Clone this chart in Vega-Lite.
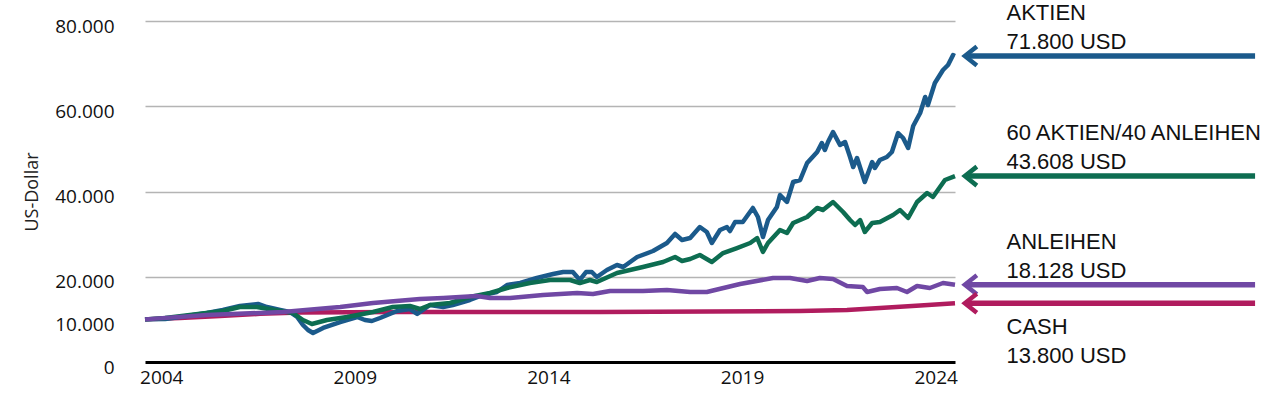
{
  "$schema": "https://vega.github.io/schema/vega-lite/v6.json",
  "width": 810,
  "height": 341,
  "autosize": {"type": "none"},
  "padding": {"left": 145, "top": 21, "right": 325, "bottom": 46},
  "background": "white",
  "config": {"view": {"stroke": null}},
  "datasets": {
    "series": [
      {"series": "Cash", "year": 2003.58, "value": 10000},
      {"series": "Cash", "year": 2004.48, "value": 10320},
      {"series": "Cash", "year": 2005.52, "value": 10790},
      {"series": "Cash", "year": 2006.55, "value": 11300},
      {"series": "Cash", "year": 2007.58, "value": 11610},
      {"series": "Cash", "year": 2010.17, "value": 11730},
      {"series": "Cash", "year": 2015.33, "value": 11730},
      {"series": "Cash", "year": 2020.49, "value": 11960},
      {"series": "Cash", "year": 2021.71, "value": 12200},
      {"series": "Cash", "year": 2022.56, "value": 12670},
      {"series": "Cash", "year": 2023.60, "value": 13250},
      {"series": "Cash", "year": 2024.50, "value": 13800},

      {"series": "Aktien", "year": 2003.58, "value": 10000},
      {"series": "Aktien", "year": 2004.10, "value": 10090},
      {"series": "Aktien", "year": 2004.48, "value": 10560},
      {"series": "Aktien", "year": 2005.18, "value": 11500},
      {"series": "Aktien", "year": 2005.59, "value": 12200},
      {"series": "Aktien", "year": 2006.03, "value": 13140},
      {"series": "Aktien", "year": 2006.50, "value": 13610},
      {"series": "Aktien", "year": 2006.73, "value": 12900},
      {"series": "Aktien", "year": 2007.07, "value": 12200},
      {"series": "Aktien", "year": 2007.32, "value": 11730},
      {"series": "Aktien", "year": 2007.51, "value": 10560},
      {"series": "Aktien", "year": 2007.66, "value": 8680},
      {"series": "Aktien", "year": 2007.79, "value": 7510},
      {"series": "Aktien", "year": 2007.92, "value": 6800},
      {"series": "Aktien", "year": 2008.18, "value": 7980},
      {"series": "Aktien", "year": 2008.62, "value": 9380},
      {"series": "Aktien", "year": 2009.06, "value": 10560},
      {"series": "Aktien", "year": 2009.26, "value": 9850},
      {"series": "Aktien", "year": 2009.44, "value": 9620},
      {"series": "Aktien", "year": 2009.65, "value": 10320},
      {"series": "Aktien", "year": 2010.09, "value": 11960},
      {"series": "Aktien", "year": 2010.42, "value": 12430},
      {"series": "Aktien", "year": 2010.61, "value": 11260},
      {"series": "Aktien", "year": 2010.94, "value": 13370},
      {"series": "Aktien", "year": 2011.28, "value": 12900},
      {"series": "Aktien", "year": 2011.53, "value": 13370},
      {"series": "Aktien", "year": 2011.97, "value": 14540},
      {"series": "Aktien", "year": 2012.31, "value": 15720},
      {"series": "Aktien", "year": 2012.67, "value": 16420},
      {"series": "Aktien", "year": 2012.93, "value": 18060},
      {"series": "Aktien", "year": 2013.27, "value": 18530},
      {"series": "Aktien", "year": 2013.70, "value": 19710},
      {"series": "Aktien", "year": 2014.12, "value": 20640},
      {"series": "Aktien", "year": 2014.38, "value": 21110},
      {"series": "Aktien", "year": 2014.63, "value": 21110},
      {"series": "Aktien", "year": 2014.81, "value": 19240},
      {"series": "Aktien", "year": 2014.97, "value": 21110},
      {"series": "Aktien", "year": 2015.12, "value": 21110},
      {"series": "Aktien", "year": 2015.25, "value": 19940},
      {"series": "Aktien", "year": 2015.51, "value": 21580},
      {"series": "Aktien", "year": 2015.77, "value": 22760},
      {"series": "Aktien", "year": 2015.93, "value": 22290},
      {"series": "Aktien", "year": 2016.29, "value": 24630},
      {"series": "Aktien", "year": 2016.70, "value": 26040},
      {"series": "Aktien", "year": 2017.06, "value": 27920},
      {"series": "Aktien", "year": 2017.27, "value": 30030},
      {"series": "Aktien", "year": 2017.45, "value": 28620},
      {"series": "Aktien", "year": 2017.66, "value": 29090},
      {"series": "Aktien", "year": 2017.91, "value": 31670},
      {"series": "Aktien", "year": 2018.09, "value": 30500},
      {"series": "Aktien", "year": 2018.22, "value": 27920},
      {"series": "Aktien", "year": 2018.43, "value": 30970},
      {"series": "Aktien", "year": 2018.61, "value": 31670},
      {"series": "Aktien", "year": 2018.69, "value": 30730},
      {"series": "Aktien", "year": 2018.82, "value": 32840},
      {"series": "Aktien", "year": 2019.02, "value": 32840},
      {"series": "Aktien", "year": 2019.28, "value": 36130},
      {"series": "Aktien", "year": 2019.41, "value": 34020},
      {"series": "Aktien", "year": 2019.54, "value": 29320},
      {"series": "Aktien", "year": 2019.67, "value": 33310},
      {"series": "Aktien", "year": 2019.90, "value": 36360},
      {"series": "Aktien", "year": 2019.98, "value": 39180},
      {"series": "Aktien", "year": 2020.16, "value": 37540},
      {"series": "Aktien", "year": 2020.32, "value": 42230},
      {"series": "Aktien", "year": 2020.50, "value": 42700},
      {"series": "Aktien", "year": 2020.68, "value": 46690},
      {"series": "Aktien", "year": 2020.94, "value": 49270},
      {"series": "Aktien", "year": 2021.06, "value": 51380},
      {"series": "Aktien", "year": 2021.14, "value": 49740},
      {"series": "Aktien", "year": 2021.22, "value": 51610},
      {"series": "Aktien", "year": 2021.35, "value": 53960},
      {"series": "Aktien", "year": 2021.53, "value": 50910},
      {"series": "Aktien", "year": 2021.66, "value": 51610},
      {"series": "Aktien", "year": 2021.79, "value": 48090},
      {"series": "Aktien", "year": 2021.87, "value": 45750},
      {"series": "Aktien", "year": 2021.97, "value": 47860},
      {"series": "Aktien", "year": 2022.17, "value": 42230},
      {"series": "Aktien", "year": 2022.36, "value": 46920},
      {"series": "Aktien", "year": 2022.43, "value": 45510},
      {"series": "Aktien", "year": 2022.56, "value": 47390},
      {"series": "Aktien", "year": 2022.74, "value": 48090},
      {"series": "Aktien", "year": 2022.87, "value": 49270},
      {"series": "Aktien", "year": 2023.03, "value": 53720},
      {"series": "Aktien", "year": 2023.16, "value": 52550},
      {"series": "Aktien", "year": 2023.29, "value": 50200},
      {"series": "Aktien", "year": 2023.42, "value": 55370},
      {"series": "Aktien", "year": 2023.60, "value": 58420},
      {"series": "Aktien", "year": 2023.73, "value": 62170},
      {"series": "Aktien", "year": 2023.80, "value": 60290},
      {"series": "Aktien", "year": 2023.98, "value": 65450},
      {"series": "Aktien", "year": 2024.19, "value": 68500},
      {"series": "Aktien", "year": 2024.32, "value": 69680},
      {"series": "Aktien", "year": 2024.45, "value": 72000},
      {"series": "Aktien", "year": 2024.50, "value": 71800},

      {"series": "60 Aktien/40 Anleihen", "year": 2003.58, "value": 10000},
      {"series": "60 Aktien/40 Anleihen", "year": 2004.10, "value": 10320},
      {"series": "60 Aktien/40 Anleihen", "year": 2004.74, "value": 11030},
      {"series": "60 Aktien/40 Anleihen", "year": 2005.59, "value": 11960},
      {"series": "60 Aktien/40 Anleihen", "year": 2006.03, "value": 12900},
      {"series": "60 Aktien/40 Anleihen", "year": 2006.47, "value": 12900},
      {"series": "60 Aktien/40 Anleihen", "year": 2007.07, "value": 11960},
      {"series": "60 Aktien/40 Anleihen", "year": 2007.40, "value": 11500},
      {"series": "60 Aktien/40 Anleihen", "year": 2007.66, "value": 9850},
      {"series": "60 Aktien/40 Anleihen", "year": 2007.89, "value": 8920},
      {"series": "60 Aktien/40 Anleihen", "year": 2008.28, "value": 9850},
      {"series": "60 Aktien/40 Anleihen", "year": 2008.80, "value": 10560},
      {"series": "60 Aktien/40 Anleihen", "year": 2009.47, "value": 11730},
      {"series": "60 Aktien/40 Anleihen", "year": 2009.98, "value": 12900},
      {"series": "60 Aktien/40 Anleihen", "year": 2010.42, "value": 13140},
      {"series": "60 Aktien/40 Anleihen", "year": 2010.68, "value": 12430},
      {"series": "60 Aktien/40 Anleihen", "year": 2010.94, "value": 13370},
      {"series": "60 Aktien/40 Anleihen", "year": 2011.46, "value": 13840},
      {"series": "60 Aktien/40 Anleihen", "year": 2011.97, "value": 15250},
      {"series": "60 Aktien/40 Anleihen", "year": 2012.49, "value": 16190},
      {"series": "60 Aktien/40 Anleihen", "year": 2012.93, "value": 17360},
      {"series": "60 Aktien/40 Anleihen", "year": 2013.52, "value": 18530},
      {"series": "60 Aktien/40 Anleihen", "year": 2014.04, "value": 19240},
      {"series": "60 Aktien/40 Anleihen", "year": 2014.56, "value": 19240},
      {"series": "60 Aktien/40 Anleihen", "year": 2014.81, "value": 18530},
      {"series": "60 Aktien/40 Anleihen", "year": 2015.07, "value": 19240},
      {"series": "60 Aktien/40 Anleihen", "year": 2015.25, "value": 18770},
      {"series": "60 Aktien/40 Anleihen", "year": 2015.77, "value": 20880},
      {"series": "60 Aktien/40 Anleihen", "year": 2016.44, "value": 22290},
      {"series": "60 Aktien/40 Anleihen", "year": 2016.96, "value": 23460},
      {"series": "60 Aktien/40 Anleihen", "year": 2017.27, "value": 24630},
      {"series": "60 Aktien/40 Anleihen", "year": 2017.45, "value": 23700},
      {"series": "60 Aktien/40 Anleihen", "year": 2017.66, "value": 24160},
      {"series": "60 Aktien/40 Anleihen", "year": 2017.91, "value": 25100},
      {"series": "60 Aktien/40 Anleihen", "year": 2018.22, "value": 23460},
      {"series": "60 Aktien/40 Anleihen", "year": 2018.51, "value": 25570},
      {"series": "60 Aktien/40 Anleihen", "year": 2018.87, "value": 26740},
      {"series": "60 Aktien/40 Anleihen", "year": 2019.21, "value": 27920},
      {"series": "60 Aktien/40 Anleihen", "year": 2019.39, "value": 29090},
      {"series": "60 Aktien/40 Anleihen", "year": 2019.54, "value": 25810},
      {"series": "60 Aktien/40 Anleihen", "year": 2019.67, "value": 27920},
      {"series": "60 Aktien/40 Anleihen", "year": 2019.98, "value": 30970},
      {"series": "60 Aktien/40 Anleihen", "year": 2020.16, "value": 30260},
      {"series": "60 Aktien/40 Anleihen", "year": 2020.32, "value": 32610},
      {"series": "60 Aktien/40 Anleihen", "year": 2020.68, "value": 34020},
      {"series": "60 Aktien/40 Anleihen", "year": 2020.94, "value": 36130},
      {"series": "60 Aktien/40 Anleihen", "year": 2021.09, "value": 35660},
      {"series": "60 Aktien/40 Anleihen", "year": 2021.35, "value": 37540},
      {"series": "60 Aktien/40 Anleihen", "year": 2021.61, "value": 35190},
      {"series": "60 Aktien/40 Anleihen", "year": 2021.79, "value": 33310},
      {"series": "60 Aktien/40 Anleihen", "year": 2021.92, "value": 32140},
      {"series": "60 Aktien/40 Anleihen", "year": 2022.05, "value": 33310},
      {"series": "60 Aktien/40 Anleihen", "year": 2022.17, "value": 30500},
      {"series": "60 Aktien/40 Anleihen", "year": 2022.36, "value": 32610},
      {"series": "60 Aktien/40 Anleihen", "year": 2022.56, "value": 32840},
      {"series": "60 Aktien/40 Anleihen", "year": 2022.90, "value": 34490},
      {"series": "60 Aktien/40 Anleihen", "year": 2023.08, "value": 35660},
      {"series": "60 Aktien/40 Anleihen", "year": 2023.29, "value": 33780},
      {"series": "60 Aktien/40 Anleihen", "year": 2023.52, "value": 37540},
      {"series": "60 Aktien/40 Anleihen", "year": 2023.78, "value": 39650},
      {"series": "60 Aktien/40 Anleihen", "year": 2023.93, "value": 38710},
      {"series": "60 Aktien/40 Anleihen", "year": 2024.24, "value": 42700},
      {"series": "60 Aktien/40 Anleihen", "year": 2024.50, "value": 43608},

      {"series": "Anleihen", "year": 2003.58, "value": 10000},
      {"series": "Anleihen", "year": 2005.18, "value": 11030},
      {"series": "Anleihen", "year": 2007.14, "value": 11730},
      {"series": "Anleihen", "year": 2008.62, "value": 12900},
      {"series": "Anleihen", "year": 2009.47, "value": 13840},
      {"series": "Anleihen", "year": 2010.68, "value": 14780},
      {"series": "Anleihen", "year": 2011.28, "value": 15010},
      {"series": "Anleihen", "year": 2012.15, "value": 15480},
      {"series": "Anleihen", "year": 2012.49, "value": 15010},
      {"series": "Anleihen", "year": 2013.01, "value": 15010},
      {"series": "Anleihen", "year": 2013.86, "value": 15720},
      {"series": "Anleihen", "year": 2014.74, "value": 16190},
      {"series": "Anleihen", "year": 2015.15, "value": 15950},
      {"series": "Anleihen", "year": 2015.59, "value": 16660},
      {"series": "Anleihen", "year": 2016.44, "value": 16660},
      {"series": "Anleihen", "year": 2017.06, "value": 16890},
      {"series": "Anleihen", "year": 2017.66, "value": 16420},
      {"series": "Anleihen", "year": 2018.09, "value": 16420},
      {"series": "Anleihen", "year": 2018.95, "value": 18300},
      {"series": "Anleihen", "year": 2019.80, "value": 19710},
      {"series": "Anleihen", "year": 2020.24, "value": 19710},
      {"series": "Anleihen", "year": 2020.68, "value": 19000},
      {"series": "Anleihen", "year": 2021.01, "value": 19710},
      {"series": "Anleihen", "year": 2021.35, "value": 19470},
      {"series": "Anleihen", "year": 2021.71, "value": 17830},
      {"series": "Anleihen", "year": 2022.12, "value": 17600},
      {"series": "Anleihen", "year": 2022.23, "value": 16420},
      {"series": "Anleihen", "year": 2022.56, "value": 17130},
      {"series": "Anleihen", "year": 2023.00, "value": 17360},
      {"series": "Anleihen", "year": 2023.26, "value": 16420},
      {"series": "Anleihen", "year": 2023.52, "value": 17830},
      {"series": "Anleihen", "year": 2023.85, "value": 17360},
      {"series": "Anleihen", "year": 2024.19, "value": 18530},
      {"series": "Anleihen", "year": 2024.50, "value": 18128}
    ],
    "labels": [
      {"series": "Aktien", "value": 71800, "text": "AKTIEN\n71.800 USD", "pos": "above"},
      {"series": "60 Aktien/40 Anleihen", "value": 43608, "text": "60 AKTIEN/40 ANLEIHEN\n43.608 USD", "pos": "above"},
      {"series": "Anleihen", "value": 18128, "text": "ANLEIHEN\n18.128 USD", "pos": "above"},
      {"series": "Cash", "value": 13800, "text": "CASH\n13.800 USD", "pos": "below"}
    ]
  },
  "encoding": {
    "y": {
      "field": "value",
      "type": "quantitative",
      "scale": {"domain": [0, 80000], "nice": false, "zero": true},
      "axis": {
        "values": [0, 10000, 20000, 40000, 60000, 80000],
        "labelExpr": "replace(format(datum.value, ',d'), ',', '.')",
        "title": "US-Dollar",
        "domain": false,
        "ticks": false,
        "grid": true,
        "gridColor": "#b4b4b4",
        "gridWidth": 1.5,
        "gridOpacity": {"condition": {"test": "datum.value == 0 || datum.value == 10000", "value": 0}, "value": 1},
        "labelFont": "Open Sans",
        "labelFontSize": 19,
        "labelColor": "#111111",
        "labelPadding": 31,
        "labelOffset": 5,
        "titleFont": "Open Sans",
        "titleFontSize": 18,
        "titleFontWeight": "normal",
        "titleColor": "#222222",
        "titlePadding": 13
      }
    }
  },
  "layer": [
    {
      "data": {"name": "series"},
      "mark": {"type": "line", "strokeWidth": 4.5, "strokeJoin": "round"},
      "encoding": {
        "x": {
          "field": "year",
          "type": "quantitative",
          "scale": {"domain": [2003.58, 2024.5], "nice": false, "zero": false},
          "axis": {
            "values": [2004, 2009, 2014, 2019, 2024],
            "format": "d",
            "title": null,
            "grid": false,
            "ticks": false,
            "domainColor": "#000000",
            "domainWidth": 3,
            "labelFont": "Open Sans",
            "labelFontSize": 19,
            "labelColor": "#111111",
            "labelPadding": 6,
            "labelFlush": false
          }
        },
        "color": {
          "field": "series",
          "type": "nominal",
          "scale": {
            "domain": ["Cash", "Aktien", "60 Aktien/40 Anleihen", "Anleihen"],
            "range": ["#b01c5e", "#1b5a8b", "#0d6d51", "#7048a4"]
          },
          "legend": null
        }
      }
    },
    {
      "data": {"name": "labels"},
      "mark": {"type": "rule", "strokeWidth": 5.5},
      "encoding": {
        "x": {"datum": 2024.83},
        "x2": {"datum": 2032.25},
        "color": {"field": "series", "type": "nominal", "legend": null}
      }
    },
    {
      "data": {"name": "labels"},
      "mark": {"type": "point", "shape": "M 0.26 -1 L -1 0 L 0.26 1", "filled": false, "strokeWidth": 4.5, "size": 361, "opacity": 1},
      "encoding": {
        "x": {"datum": 2025.0},
        "color": {"field": "series", "type": "nominal", "legend": null}
      }
    },
    {
      "data": {"name": "labels"},
      "transform": [{"filter": "datum.pos == 'above'"}],
      "mark": {"type": "text", "align": "left", "baseline": "middle", "dy": -43, "lineBreak": "\n", "lineHeight": 29, "font": "Liberation Sans", "fontSize": 22, "color": "#111111"},
      "encoding": {
        "x": {"datum": 2025.83},
        "text": {"field": "text", "type": "nominal"}
      }
    },
    {
      "data": {"name": "labels"},
      "transform": [{"filter": "datum.pos == 'below'"}],
      "mark": {"type": "text", "align": "left", "baseline": "middle", "dy": 24, "lineBreak": "\n", "lineHeight": 29, "font": "Liberation Sans", "fontSize": 22, "color": "#111111"},
      "encoding": {
        "x": {"datum": 2025.83},
        "text": {"field": "text", "type": "nominal"}
      }
    }
  ]
}
